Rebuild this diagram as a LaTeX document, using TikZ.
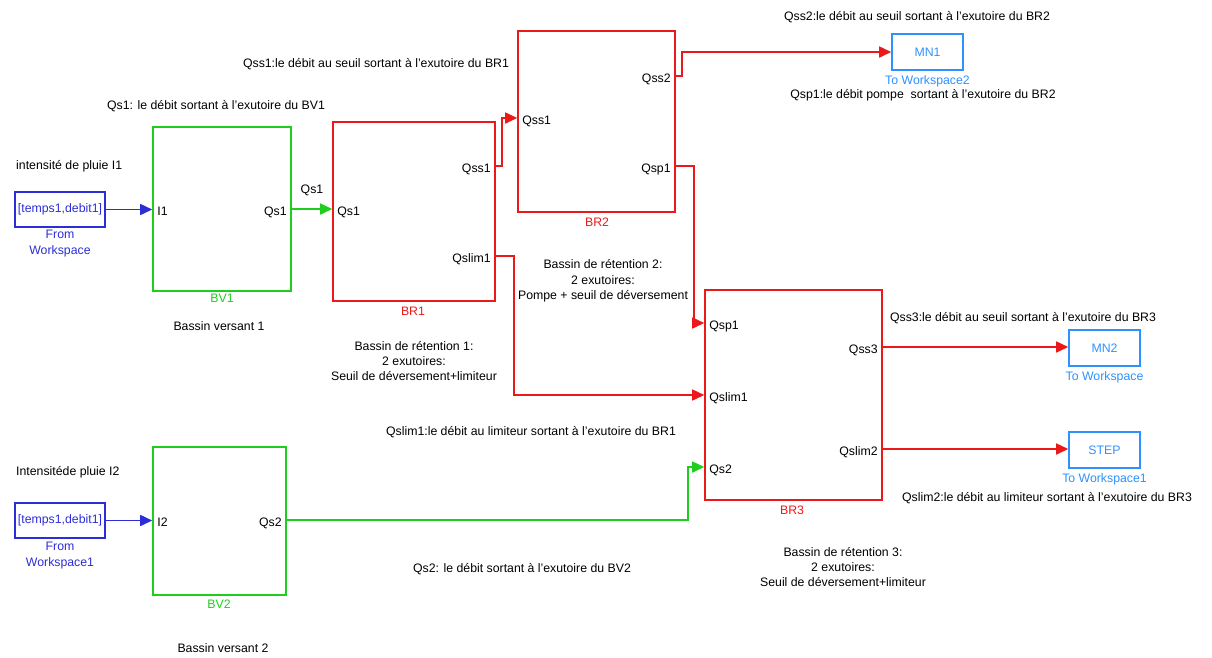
\documentclass[tikz,border=0pt]{standalone}
\usepackage{fontspec}
\setmainfont{Liberation Sans}
\usetikzlibrary{arrows.meta}
\definecolor{fwblue}{RGB}{45,45,215}
\definecolor{bvgreen}{RGB}{30,205,30}
\definecolor{brred}{RGB}{235,25,25}
\definecolor{twblue}{RGB}{45,145,255}

\begin{document}
\begin{tikzpicture}[x=0.02cm,y=-0.02cm,font=\fontsize{7}{8.8}\selectfont,
  blk/.style={draw,line width=0.9pt,inner sep=0pt},
  port/.style={inner sep=0pt,text height=0.72em,text depth=0pt},
  wire/.style={line width=0.9pt,-{Triangle[length=2.4mm,width=2.2mm]}}]
  \useasboundingbox (0,0) rectangle (1212,657);

  \node[blk,fwblue,minimum width=1.8cm,minimum height=0.7cm] (fw1) at (60,209.5) {[temps1,debit1]};
  \node[blk,fwblue,minimum width=1.8cm,minimum height=0.7cm] (fw2) at (60,520.5) {[temps1,debit1]};
  \node[fwblue,align=center] (fw1-cap) at (60,243.5) {From\\Workspace};
  \node[fwblue,align=center] (fw2-cap) at (60,555.5) {From\\Workspace1};

  \node[blk,bvgreen,minimum width=2.76cm,minimum height=3.28cm] (bv1) at (222,209) {};
  \node[blk,bvgreen,minimum width=2.66cm,minimum height=2.96cm] (bv2) at (219.5,521) {};
  \node[blk,brred,minimum width=3.24cm,minimum height=3.58cm] (br1) at (414,211.5) {};
  \node[blk,brred,minimum width=3.14cm,minimum height=3.62cm] (br2) at (596.5,121.5) {};
  \node[blk,brred,minimum width=3.54cm,minimum height=4.2cm] (br3) at (793.5,395) {};
  \foreach \nm/\x/\y/\txt/\cap in {mn1/927.5/52/MN1/To Workspace2,
    mn2/1104.5/348/MN2/To Workspace, stepws/1104.5/450/STEP/To Workspace1}{
    \node[blk,twblue,minimum width=1.42cm,minimum height=0.72cm] (\nm) at (\x,\y) {\txt};
    \node[twblue] (\nm-cap) at (\x,\y+29) {\cap};
  }

  \node[bvgreen] (bv1-cap) at (222,298) {BV1};
  \node[bvgreen] (bv2-cap) at (219,604) {BV2};
  \node[brred] (br1-cap) at (413,311) {BR1};
  \node[brred] (br2-cap) at (597,222) {BR2};
  \node[brred] (br3-cap) at (792,510) {BR3};

  \node[port,anchor=west] (bv1-in) at (157,209) {I1};
  \node[port,anchor=east] (bv1-out) at (287,209) {Qs1};
  \node[port,anchor=west] (bv2-in) at (157,520) {I2};
  \node[port,anchor=east] (bv2-out) at (282,520) {Qs2};
  \node[port,anchor=west] (br1-qs1) at (337,209) {Qs1};
  \node[port,anchor=east] (br1-qss1) at (491,166) {Qss1};
  \node[port,anchor=east] (br1-qslim1) at (491,256) {Qslim1};
  \node[port,anchor=west] (br2-qss1) at (522,118) {Qss1};
  \node[port,anchor=east] (br2-qss2) at (671,76) {Qss2};
  \node[port,anchor=east] (br2-qsp1) at (671,166) {Qsp1};
  \node[port,anchor=west] (br3-qsp1) at (709,323) {Qsp1};
  \node[port,anchor=west] (br3-qslim1) at (709,395) {Qslim1};
  \node[port,anchor=west] (br3-qs2) at (709,467) {Qs2};
  \node[port,anchor=east] (br3-qss3) at (878,347) {Qss3};
  \node[port,anchor=east] (br3-qslim2) at (878,449) {Qslim2};

  \draw[wire,fwblue] (fw1.east) -- (fw1.east -| bv1.west);
  \draw[wire,fwblue] (fw2.east) -- (fw2.east -| bv2.west);
  \draw[wire,bvgreen] (bv1.east |- bv1-out) -- (br1.west |- br1-qs1)
    node[midway,yshift=10.8pt,black] {Qs1};
  \draw[wire,bvgreen] (bv2.east |- bv2-out) -- ++(401,0) |- (br3.west |- br3-qs2);
  \draw[wire,brred] (br1.east |- br1-qss1) -- ++(6,0) |- (br2.west |- br2-qss1);
  \draw[wire,brred] (br1.east |- br1-qslim1) -- ++(18,0) |- (br3.west |- br3-qslim1);
  \draw[wire,brred] (br2.east |- br2-qss2) -- ++(6,0) |- (mn1.west);
  \draw[wire,brred] (br2.east |- br2-qsp1) -- ++(18,0) |- (br3.west |- br3-qsp1);
  \draw[wire,brred] (br3.east |- br3-qss3) -- (br3-qss3 -| mn2.west);
  \draw[wire,brred] (br3.east |- br3-qslim2) -- (br3-qslim2 -| stepws.west);

  \node[anchor=west] (pluie1) at (10,166) {intensité de pluie I1};
  \node[anchor=west] (pluie2) at (10,472) {Intensitéde pluie I2};
  \node (qs1-txt) at (216,106) {Qs1: le débit sortant à l'exutoire du BV1};
  \node (qs2-txt) at (522,569) {Qs2: le débit sortant à l'exutoire du BV2};
  \node (bv1-txt) at (219,326) {Bassin versant 1};
  \node (bv2-txt) at (223,648) {Bassin versant 2};
  \node (qss1-txt) at (376,64) {Qss1:le débit au seuil sortant à l'exutoire du BR1};
  \node (qslim1-txt) at (531,432) {Qslim1:le débit au limiteur sortant à l'exutoire du BR1};
  \node (qss2-txt) at (917,17) {Qss2:le débit au seuil sortant à l'exutoire du BR2};
  \node (qsp1-txt) at (923,95) {Qsp1:le débit pompe \ sortant à l'exutoire du BR2};
  \node (qss3-txt) at (1023,318) {Qss3:le débit au seuil sortant à l'exutoire du BR3};
  \node (qslim2-txt) at (1047,498) {Qslim2:le débit au limiteur sortant à l'exutoire du BR3};
  \node[align=center] (br1-txt) at (414,361) {Bassin de rétention 1:\\2 exutoires:\\Seuil de déversement+limiteur};
  \node[align=center] (br2-txt) at (603,281) {Bassin de rétention 2:\\2 exutoires:\\Pompe + seuil de déversement};
  \node[align=center] (br3-txt) at (843,567) {Bassin de rétention 3:\\2 exutoires:\\Seuil de déversement+limiteur};
\end{tikzpicture}
\end{document}
